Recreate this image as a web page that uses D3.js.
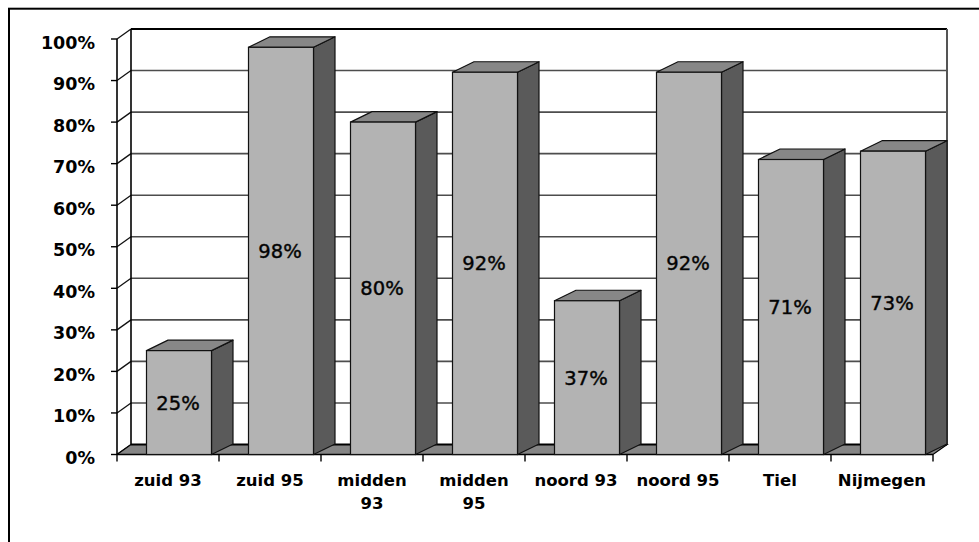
<!DOCTYPE html>
<html>
<head>
<meta charset="utf-8">
<script src="https://cdn.jsdelivr.net/npm/d3@7"></script>
<style>
  html, body { margin: 0; padding: 0; background: #fff; }
  svg { display: block; }
  text { font-family: "DejaVu Sans", sans-serif; fill: #000; }
</style>
</head>
<body>
<svg id="chart" width="979" height="542"></svg>
<script>
// Share per district / year
const categories = ["zuid 93", "zuid 95", "midden 93", "midden 95", "noord 93", "noord 95", "Tiel", "Nijmegen"];
const values = [0.25, 0.98, 0.80, 0.92, 0.37, 0.92, 0.71, 0.73];
const yTicks = [0, 0.1, 0.2, 0.3, 0.4, 0.5, 0.6, 0.7, 0.8, 0.9, 1.0];
const tickLabels = ["0%", "10%", "20%", "30%", "40%", "50%", "60%", "70%", "80%", "90%", "100%"];

const svg = d3.select("#chart");

// plot geometry (front plane of the 3D box)
const plotLeft = 117, plotRight = 933, plotBottom = 454.5, plotTop = 39;
const wallDx = 14, wallDy = -10;      // offset of the back wall
const barDx = 21.5, barDy = -10.5;    // depth of each column
const barOffset = 29.5, barWidth = 65;

const x = d3.scaleBand().domain(categories).range([plotLeft, plotRight]);
const y = d3.scaleLinear().domain([0, 1]).range([plotBottom, plotTop]);

const fmt = d3.format(".0%");

// outer frame
svg.append("rect")
  .attr("x", 9).attr("y", 8.7)
  .attr("width", 1000).attr("height", 1000)
  .attr("fill", "none").attr("stroke", "#000").attr("stroke-width", 2);

// back wall
const bw = svg.append("g");
bw.append("rect")
  .attr("x", plotLeft + wallDx).attr("y", plotTop + wallDy)
  .attr("width", plotRight - plotLeft).attr("height", plotBottom - plotTop)
  .attr("fill", "#fff");

// gridlines on back wall and their diagonals on the side wall
bw.selectAll("line.grid")
  .data(yTicks.filter(d => d > 0 && d < 1))
  .join("line")
  .attr("x1", plotLeft + wallDx).attr("x2", plotRight + wallDx)
  .attr("y1", d => y(d) + wallDy).attr("y2", d => y(d) + wallDy)
  .attr("stroke", "#4d4d4d").attr("stroke-width", 1.6);

bw.selectAll("line.diag")
  .data(yTicks)
  .join("line")
  .attr("x1", plotLeft).attr("x2", plotLeft + wallDx)
  .attr("y1", d => y(d)).attr("y2", d => y(d) + wallDy)
  .attr("stroke", "#111").attr("stroke-width", 1.3);

// back wall outline
bw.append("line")
  .attr("x1", plotLeft + wallDx).attr("x2", plotRight + wallDx)
  .attr("y1", plotTop + wallDy).attr("y2", plotTop + wallDy)
  .attr("stroke", "#000").attr("stroke-width", 1.8);
bw.append("line")
  .attr("x1", plotLeft + wallDx).attr("x2", plotLeft + wallDx)
  .attr("y1", plotTop + wallDy).attr("y2", plotBottom + wallDy)
  .attr("stroke", "#000").attr("stroke-width", 1.6);
bw.append("line")
  .attr("x1", plotRight + wallDx).attr("x2", plotRight + wallDx)
  .attr("y1", plotTop + wallDy).attr("y2", plotBottom + wallDy)
  .attr("stroke", "#555").attr("stroke-width", 2);

// floor
svg.append("path")
  .attr("d", d3.line()([
    [plotLeft, plotBottom], [plotRight, plotBottom],
    [plotRight + wallDx, plotBottom + wallDy], [plotLeft + wallDx, plotBottom + wallDy]
  ]) + "Z")
  .attr("fill", "#858585").attr("stroke", "#000").attr("stroke-width", 1.2);
svg.append("line")
  .attr("x1", plotLeft + wallDx).attr("x2", plotRight + wallDx)
  .attr("y1", plotBottom + wallDy).attr("y2", plotBottom + wallDy)
  .attr("stroke", "#000").attr("stroke-width", 2.2);

// front value axis
svg.append("line")
  .attr("x1", plotLeft).attr("x2", plotLeft)
  .attr("y1", plotTop).attr("y2", plotBottom)
  .attr("stroke", "#000").attr("stroke-width", 1.6);

svg.selectAll("line.ytick")
  .data(yTicks)
  .join("line")
  .attr("x1", plotLeft - 6).attr("x2", plotLeft)
  .attr("y1", d => y(d)).attr("y2", d => y(d))
  .attr("stroke", "#000").attr("stroke-width", 1.4);

svg.selectAll("text.ylab")
  .data(yTicks)
  .join("text")
  .attr("x", 95)
  .attr("y", d => y(d) + 9.5)
  .attr("text-anchor", "end")
  .attr("font-size", 17.5)
  .attr("font-weight", "bold")
  .text((d, i) => tickLabels[i]);

// category axis
svg.append("line")
  .attr("x1", plotLeft).attr("x2", plotRight)
  .attr("y1", plotBottom).attr("y2", plotBottom)
  .attr("stroke", "#000").attr("stroke-width", 1.6);

svg.selectAll("line.xtick")
  .data(categories.concat([null]))
  .join("line")
  .attr("x1", (d, i) => plotLeft + i * x.step())
  .attr("x2", (d, i) => plotLeft + i * x.step())
  .attr("y1", plotBottom).attr("y2", plotBottom + 7)
  .attr("stroke", "#000").attr("stroke-width", 1.4);

// columns
const bars = svg.selectAll("g.bar")
  .data(categories.map((c, i) => ({ c, v: values[i] })))
  .join("g");

bars.each(function (d) {
  const g = d3.select(this);
  const x0 = x(d.c) + barOffset, x1 = x0 + barWidth;
  const y0 = y(d.v), y1 = y(0);
  const line = d3.line();
  // side face
  g.append("path")
    .attr("d", line([[x1, y0], [x1 + barDx, y0 + barDy], [x1 + barDx, y1 + barDy], [x1, y1]]) + "Z")
    .attr("fill", "#5a5a5a").attr("stroke", "#111").attr("stroke-width", 1.2)
    .attr("stroke-linejoin", "round");
  // top face
  g.append("path")
    .attr("d", line([[x0, y0], [x0 + barDx, y0 + barDy], [x1 + barDx, y0 + barDy], [x1, y0]]) + "Z")
    .attr("fill", "#878787").attr("stroke", "#111").attr("stroke-width", 1.2)
    .attr("stroke-linejoin", "round");
  // front face
  g.append("rect")
    .attr("x", x0).attr("y", y0)
    .attr("width", barWidth).attr("height", y1 - y0)
    .attr("fill", "#b3b3b3").attr("stroke", "#111").attr("stroke-width", 1.2);
  // value label
  g.append("text")
    .attr("x", (x0 + x1) / 2 - 1)
    .attr("y", (y0 + y1) / 2 + 7)
    .attr("text-anchor", "middle")
    .attr("font-size", 19.5)
    .attr("fill", "#111")
    .attr("stroke", "#111")
    .attr("stroke-width", 0.45)
    .text(fmt(d.v));
});

// category labels, wrapped to the band width
const maxW = 92;
svg.selectAll("text.xlab")
  .data(categories)
  .join("text")
  .attr("x", d => x(d) + x.bandwidth() / 2)
  .attr("y", 486)
  .attr("text-anchor", "middle")
  .attr("font-size", 16.5)
  .attr("font-weight", "bold")
  .each(function (d) {
    const t = d3.select(this);
    t.text(d);
    if (this.getComputedTextLength() > maxW) {
      const words = d.split(" ");
      t.text(null);
      const cx = +t.attr("x");
      t.append("tspan").attr("x", cx).attr("dy", 0).text(words.slice(0, -1).join(" "));
      t.append("tspan").attr("x", cx).attr("dy", 23).text(words[words.length - 1]);
    }
  });
</script>
</body>
</html>
